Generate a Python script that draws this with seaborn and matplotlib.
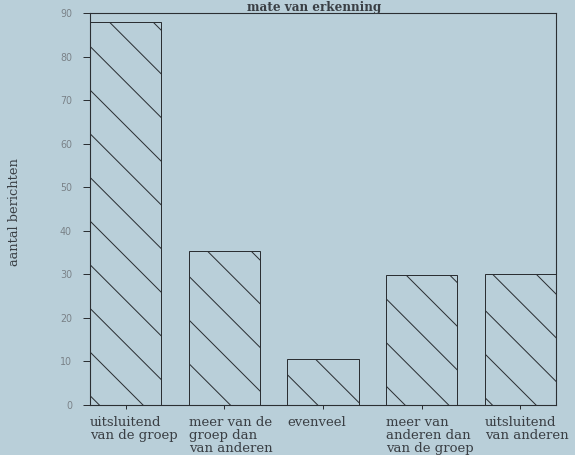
import matplotlib
matplotlib.use("Agg")
import matplotlib.pyplot as plt
import seaborn as sns
import pandas as pd
from matplotlib.ticker import FixedLocator

categories = ["uitsluitend\nvan de groep", "meer van de\ngroep dan\nvan anderen", "evenveel",
              "meer van\nanderen dan\nvan de groep", "uitsluitend\nvan anderen"]
values = [88, 35.3, 10.6, 29.9, 30.0]
yticks = [0, 10, 20, 30, 40, 50, 60, 70, 80, 90]
title = "mate van erkenning"
ylabel = "aantal berichten"

BG = "#b9cfd9"
INK = "#2b2f33"
TXT = "#3a3f44"
DPI = 131
PX = 72 / DPI  # points per pixel

sns.set_theme(style="white")
plt.rcParams["hatch.linewidth"] = 1.0 * PX
plt.rcParams["font.family"] = ["DejaVu Sans"]

fig = plt.figure(figsize=(575 / DPI, 455 / DPI), dpi=DPI, facecolor=BG)
ax = fig.add_axes([90 / 575, 1 - 405 / 455, (556 - 90) / 575, (405 - 13) / 455])
ax.set_facecolor(BG)

df = pd.DataFrame({"cat": categories, "val": values})
W = 0.72
sns.barplot(data=df, x="cat", y="val", ax=ax, width=W, color=BG, saturation=1,
            edgecolor=INK, linewidth=1.0 * PX, hatch="\\")

ax.set_xlim(-W / 2, len(categories) - 1 + W / 2)
ax.set_ylim(0, 90)
ax.set_yticks(yticks)
ax.set_yticklabels([str(v) for v in yticks], fontsize=9.5 * PX, color="#7a8288",
                   family="DejaVu Sans")
ax.tick_params(axis="y", direction="out", length=7 * PX, width=1.0 * PX, color=INK,
               pad=11 * PX, left=True)

# x: ticks at bar centres, labels aligned on bar left edges
ax.xaxis.set_major_locator(FixedLocator(list(range(len(categories)))))
ax.set_xticklabels([""] * len(categories))
ax.tick_params(axis="x", which="major", direction="out", length=4 * PX, width=1.0 * PX,
               color=INK, bottom=True)
ax.xaxis.set_minor_locator(FixedLocator([i - W / 2 for i in range(len(categories))]))
ax.set_xticklabels(categories, minor=True, fontsize=13.2 * PX, family="DejaVu Serif",
                   color=TXT, ha="left", linespacing=1.0)
ax.tick_params(axis="x", which="minor", length=0, pad=11 * PX)
ax.set_xlabel("")
ax.set_ylabel("")

for s in ax.spines.values():
    s.set_visible(True)
    s.set_color(INK)
    s.set_linewidth(1.1 * PX)

fig.text(15 / 575, 1 - 212 / 455, ylabel, rotation=90, ha="center", va="center",
         fontsize=13 * PX, family="DejaVu Serif", color=TXT)
fig.text(314 / 575, 1 - 1 / 455, title, ha="center", va="top",
         fontsize=12 * PX, family="DejaVu Serif", fontweight="bold", color=TXT)

fig.savefig("out.png", dpi=DPI, facecolor=BG)
